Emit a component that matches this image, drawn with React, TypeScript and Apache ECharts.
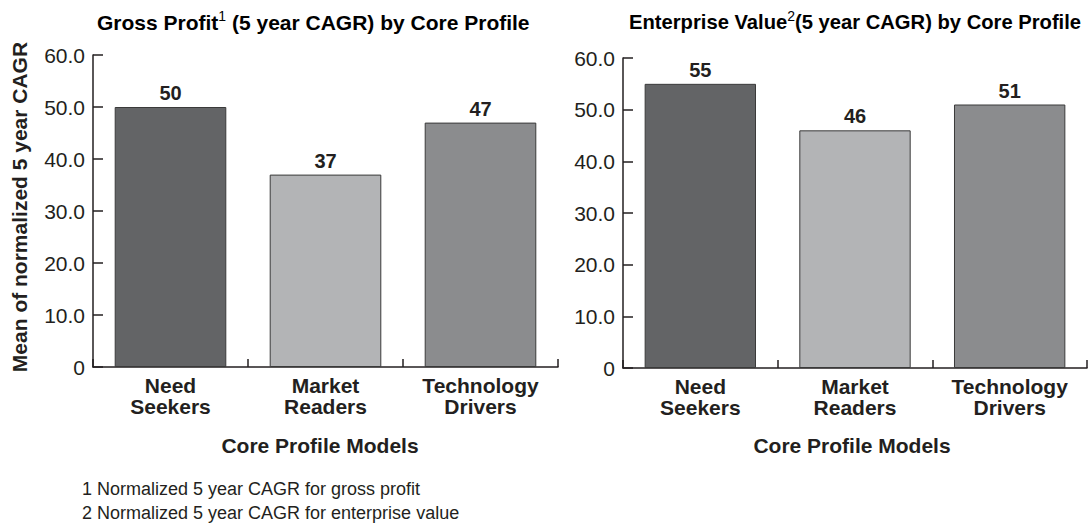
import React, { useEffect, useRef } from "react";
import * as echarts from "echarts";

const categories = ["Need\nSeekers", "Market\nReaders", "Technology\nDrivers"];
const grossProfit = [50, 37, 47];
const enterpriseValue = [55, 46, 51];
const barColors = ["#636466", "#b3b4b6", "#8b8c8e"];
const yTicks = { min: 0, max: 60, interval: 10 };
const footnotes = [
  "1 Normalized 5 year CAGR for gross profit",
  "2 Normalized 5 year CAGR for enterprise value",
];

const TXT = "#231f20";
const FONT = "'Liberation Sans', Arial, Helvetica, sans-serif";

function makeX(gridIndex: number) {
  return {
    type: "category",
    gridIndex,
    data: categories,
    axisLine: { show: true, lineStyle: { color: TXT, width: 1.5 } },
    axisTick: { show: true, inside: true, length: 8, lineStyle: { color: TXT, width: 1.5 } },
    axisLabel: {
      color: TXT,
      fontFamily: FONT,
      fontSize: 21,
      fontWeight: "bold",
      lineHeight: 21,
      margin: 8,
    },
  };
}

function makeY(gridIndex: number) {
  return {
    type: "value",
    gridIndex,
    min: yTicks.min,
    max: yTicks.max,
    interval: yTicks.interval,
    splitLine: { show: false },
    axisLine: { show: true, lineStyle: { color: TXT, width: 1.5 } },
    axisTick: { show: true, inside: true, length: 10, lineStyle: { color: TXT, width: 1.5 } },
    axisLabel: {
      color: TXT,
      fontFamily: FONT,
      fontSize: 21,
      margin: 8,
      formatter: (v: number) => (v === 0 ? "0" : v.toFixed(1)),
    },
  };
}

function makeSeries(values: number[], idx: number) {
  return {
    type: "bar",
    xAxisIndex: idx,
    yAxisIndex: idx,
    barWidth: "72%",
    data: values.map((v, i) => ({
      value: v,
      itemStyle: { color: barColors[i], borderColor: "#3a3a3a", borderWidth: 1 },
    })),
    label: {
      show: true,
      position: "top",
      distance: 4,
      color: TXT,
      fontFamily: FONT,
      fontSize: 20,
      fontWeight: "bold",
    },
  };
}

function titleRich(size: number) {
  return {
    a: { fontSize: size, fontWeight: "bold", fontFamily: FONT, color: TXT, lineHeight: 26 },
    s: { fontSize: 14, fontFamily: FONT, color: TXT, lineHeight: 14, verticalAlign: "top" },
  };
}

export default function App() {
  const ref = useRef<HTMLDivElement>(null);
  useEffect(() => {
    document.body.style.margin = "0";
    const chart = echarts.init(ref.current!, undefined, { renderer: "svg" });
    chart.setOption({
      animation: false,
      backgroundColor: "#ffffff",
      grid: [
        { left: 93, top: 55, width: 465, height: 312 },
        { left: 623, top: 58, width: 464, height: 310 },
      ],
      xAxis: [makeX(0), makeX(1)],
      yAxis: [makeY(0), makeY(1)],
      series: [makeSeries(grossProfit, 0), makeSeries(enterpriseValue, 1)],
      graphic: [
        {
          type: "text",
          x: 97,
          y: 22,
          style: {
            text: "{a|Gross Profit}{s|1}{a| (5 year CAGR) by Core Profile}",
            rich: titleRich(21),
            verticalAlign: "middle",
            align: "left",
          },
        },
        {
          type: "text",
          x: 629,
          y: 22,
          style: {
            text: "{a|Enterprise Value}{s|2}{a|(5 year CAGR) by Core Profile}",
            rich: titleRich(20.2),
            verticalAlign: "middle",
            align: "left",
          },
        },
        {
          type: "text",
          x: 19,
          y: 207,
          rotation: Math.PI / 2,
          style: {
            text: "Mean of normalized 5 year CAGR",
            fontFamily: FONT,
            fontSize: 21,
            fontWeight: "bold",
            fill: TXT,
            align: "center",
            verticalAlign: "middle",
          },
        },
        {
          type: "text",
          x: 320,
          y: 445,
          style: {
            text: "Core Profile Models",
            fontFamily: FONT,
            fontSize: 21,
            fontWeight: "bold",
            fill: TXT,
            align: "center",
            verticalAlign: "middle",
          },
        },
        {
          type: "text",
          x: 852,
          y: 445,
          style: {
            text: "Core Profile Models",
            fontFamily: FONT,
            fontSize: 21,
            fontWeight: "bold",
            fill: TXT,
            align: "center",
            verticalAlign: "middle",
          },
        },
        ...footnotes.map((t, i) => ({
          type: "text",
          x: 82,
          y: 489 + i * 23.5,
          style: {
            text: t,
            fontFamily: FONT,
            fontSize: 18,
            fill: TXT,
            align: "left",
            verticalAlign: "middle",
          },
        })),
      ],
    });
    return () => chart.dispose();
  }, []);
  return <div ref={ref} style={{ width: 1088, height: 525 }} />;
}
